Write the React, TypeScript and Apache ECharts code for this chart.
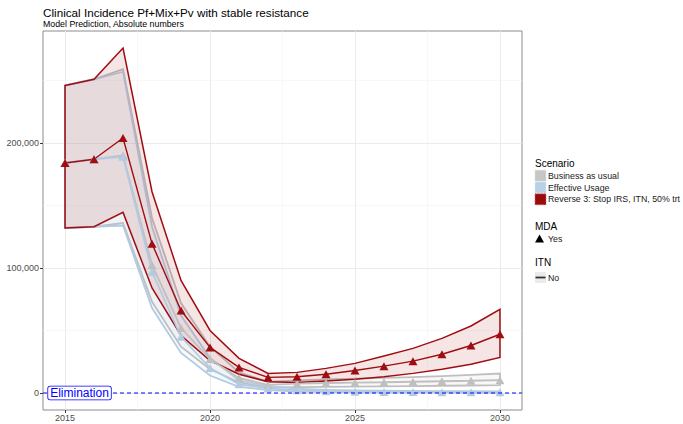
import React, { useEffect, useRef } from "react";
import * as echarts from "echarts";

// Simulation years
const years = [2015, 2016, 2017, 2018, 2019, 2020, 2021, 2022, 2023, 2024, 2025, 2026, 2027, 2028, 2029, 2030];

// Business as usual: median and uncertainty bounds
const bauMed = [184000, 187000, 190000, 102500, 52000, 27000, 12000, 6500, 7500, 8000, 8300, 8600, 9000, 9400, 9800, 10300];
const bauUp = [246000, 251000, 259000, 140000, 72000, 37000, 16500, 9000, 10000, 10800, 11500, 12100, 12700, 13500, 14500, 15600];
const bauLow = [132000, 133000, 136000, 73000, 37000, 19000, 8500, 4500, 4700, 4900, 5100, 5300, 5500, 5800, 6000, 6300];

// Effective usage
const euMed = [184000, 187000, 189000, 97000, 45000, 20000, 7000, 3700, 2200, 1500, 1100, 900, 800, 700, 600, 600];
const euUp = [246000, 251000, 257000, 133000, 62000, 28000, 10000, 5500, 3500, 2500, 2000, 1800, 1600, 1500, 1400, 1300];
const euLow = [132000, 133000, 134000, 68000, 32000, 14000, 5000, 2400, 1200, 700, 500, 400, 300, 250, 200, 200];

// Reverse 3: Stop IRS, ITN, 50% trt
const revMed = [184000, 187000, 204000, 119500, 66000, 36500, 20500, 12500, 13000, 15000, 18000, 21500, 25500, 31000, 38000, 47000];
const revUp = [246000, 251000, 276000, 161000, 90000, 50000, 27700, 15700, 16500, 19700, 23700, 29600, 35700, 43700, 53600, 67000];
const revLow = [132000, 133000, 144500, 84000, 46000, 26000, 15000, 9000, 8500, 9600, 11000, 13000, 15700, 19000, 23000, 28500];

// Axis range, ticks and grid
const xRange = [2014.24, 2030.76];
const yRange = [-13600, 289600];
const xTicks = [2015, 2020, 2025, 2030];
const xMinor = [2017.5, 2022.5, 2027.5];
const yTicks = [0, 100000, 200000];
const yMinor = [50000, 150000, 250000];

// Elimination threshold
const eliminationLevel = 0;

const scenarioNames = ["Business as usual", "Effective Usage", "Reverse 3: Stop IRS, ITN, 50% trt"];

const FONT = "'Liberation Sans', Arial, Helvetica, sans-serif";

const GREY = "#bfbfbf";
const BLUE = "#b3cbe2";
const RED = "#9f0d12";

function band(name: string, up: number[], low: number[], fill: string, stroke: string, lineWidth: number) {
  return {
    type: "custom",
    name,
    silent: true,
    z: 2,
    data: [[years[0], 0]],
    renderItem: (_params: any, api: any) => {
      const top = years.map((y, i) => api.coord([y, up[i]]));
      const bottom = years.map((y, i) => api.coord([y, low[i]])).reverse();
      return {
        type: "polygon",
        shape: { points: top.concat(bottom) },
        style: { fill, stroke, lineWidth },
      };
    },
  };
}

function median(name: string, vals: number[], color: string, width: number) {
  return {
    type: "line",
    name,
    z: 3,
    silent: true,
    data: years.map((y, i) => [y, vals[i]]),
    symbol: "triangle",
    symbolSize: [9, 8],
    showAllSymbol: true,
    itemStyle: { color },
    lineStyle: { color, width },
  };
}

export default function App() {
  const ref = useRef<HTMLDivElement>(null);

  useEffect(() => {
    if (!ref.current) return;
    const chart = echarts.init(ref.current, undefined, { renderer: "svg" });

    const major = { color: "#ebebeb", width: 1, type: "solid" };
    const minor = { color: "#f4f4f4", width: 0.6, type: "solid" };
    const gridLines = [
      ...xTicks.map((v) => ({ xAxis: v, lineStyle: major })),
      ...xMinor.map((v) => ({ xAxis: v, lineStyle: minor })),
      ...yTicks.map((v) => ({ yAxis: v, lineStyle: major })),
      ...yMinor.map((v) => ({ yAxis: v, lineStyle: minor })),
    ];

    const legendKeyY = [175.7, 187.5, 199.3];
    const keyStyles = [
      { fill: "#c6c6c6", stroke: "#dedede" },
      { fill: "#bad0e7", stroke: "#d9e6f3" },
      { fill: "#9b0b0b", stroke: "#c97070" },
    ];

    const graphic: any[] = [
      { type: "text", left: 535, top: 158, style: { text: "Scenario", fontSize: 10, fontFamily: FONT, fill: "#000" } },
      ...scenarioNames.flatMap((n, i) => [
        {
          type: "rect",
          shape: { x: 535, y: legendKeyY[i] - 5.5, width: 11, height: 11 },
          style: { fill: keyStyles[i].fill, stroke: keyStyles[i].stroke, lineWidth: 1, lineDash: [1.5, 1.5] },
        },
        {
          type: "text",
          x: 548,
          y: legendKeyY[i],
          style: { text: n, fontSize: 8.8, fontFamily: FONT, fill: "#1a1a1a", textVerticalAlign: "middle" },
        },
      ]),
      { type: "text", left: 535, top: 221, style: { text: "MDA", fontSize: 10, fontFamily: FONT, fill: "#000" } },
      {
        type: "polygon",
        shape: { points: [[535, 242.5], [544, 242.5], [539.5, 234.5]] },
        style: { fill: "#000" },
      },
      { type: "text", x: 548, y: 239, style: { text: "Yes", fontSize: 8.8, fontFamily: FONT, fill: "#1a1a1a", textVerticalAlign: "middle" } },
      { type: "text", left: 535, top: 257, style: { text: "ITN", fontSize: 10, fontFamily: FONT, fill: "#000" } },
      { type: "rect", shape: { x: 535, y: 272, width: 11, height: 11 }, style: { fill: "#ebebeb" } },
      { type: "line", shape: { x1: 535.5, y1: 277.5, x2: 545.5, y2: 277.5 }, style: { stroke: "#333", lineWidth: 1.8 } },
      { type: "text", x: 548, y: 277.5, style: { text: "No", fontSize: 8.8, fontFamily: FONT, fill: "#1a1a1a", textVerticalAlign: "middle" } },
    ];

    chart.setOption({
      animation: false,
      backgroundColor: "#fff",
      textStyle: { fontFamily: FONT },
      title: [
        {
          text: "Clinical Incidence Pf+Mix+Pv with stable resistance",
          left: 43,
          top: 6,
          padding: 0,
          textStyle: { fontSize: 11.7, fontWeight: "normal", color: "#000", fontFamily: FONT },
        },
        {
          text: "Model Prediction, Absolute numbers",
          left: 43,
          top: 19.5,
          padding: 0,
          textStyle: { fontSize: 8.8, fontWeight: "normal", color: "#000", fontFamily: FONT },
        },
      ],
      grid: {
        left: 43,
        right: 161,
        top: 31,
        bottom: 14,
        show: true,
        borderColor: "#8c8c8c",
        borderWidth: 1,
        backgroundColor: "transparent",
      },
      xAxis: {
        type: "value",
        min: xRange[0],
        max: xRange[1],
        axisLine: { show: false, onZero: false },
        splitLine: { show: false },
        axisTick: { show: true, customValues: xTicks, length: 3, lineStyle: { color: "#333" } },
        axisLabel: {
          customValues: xTicks,
          color: "#4d4d4d",
          fontSize: 9,
          margin: 3,
          fontFamily: FONT,
          formatter: (v: number) => String(v),
        },
      },
      yAxis: {
        type: "value",
        min: yRange[0],
        max: yRange[1],
        axisLine: { show: false, onZero: false },
        splitLine: { show: false },
        axisTick: { show: true, customValues: yTicks, length: 3, lineStyle: { color: "#333" } },
        axisLabel: {
          customValues: yTicks,
          color: "#4d4d4d",
          fontSize: 9,
          margin: 4,
          fontFamily: FONT,
          formatter: (v: number) => v.toLocaleString("en-US"),
        },
      },
      graphic,
      series: [
        {
          type: "line",
          z: 1,
          silent: true,
          data: [[2015, 0]],
          showSymbol: false,
          lineStyle: { opacity: 0 },
          markLine: {
            z: 1,
            silent: true,
            symbol: ["none", "none"],
            label: { show: false },
            lineStyle: major,
            data: gridLines,
          },
        },
        band(scenarioNames[0], bauUp, bauLow, "rgba(190,190,190,0.1)", GREY, 1.8),
        band(scenarioNames[1], euUp, euLow, "rgba(179,203,226,0.1)", BLUE, 1.8),
        band(scenarioNames[2], revUp, revLow, "rgba(165,15,21,0.11)", RED, 1.5),
        median(scenarioNames[0], bauMed, GREY, 1.8),
        median(scenarioNames[1], euMed, BLUE, 1.8),
        median(scenarioNames[2], revMed, RED, 1.4),
        {
          // horizontal elimination reference line across the full panel
          type: "line",
          name: "Elimination",
          z: 4,
          silent: true,
          showSymbol: false,
          data: [
            [xRange[0], eliminationLevel],
            [xRange[1], eliminationLevel],
          ],
          lineStyle: { color: "#0000ff", type: [4, 3], width: 1 },
          markPoint: {
            z: 6,
            silent: true,
            symbol: "rect",
            symbolSize: 1,
            itemStyle: { color: "rgba(0,0,0,0)" },
            data: [{ coord: [2015.5, eliminationLevel] }],
            label: {
              show: true,
              position: "inside",
              formatter: "Elimination",
              color: "#0000ff",
              fontSize: 12,
              lineHeight: 12,
              fontFamily: FONT,
              backgroundColor: "#fff",
              borderColor: "#0000ff",
              borderWidth: 0.8,
              borderRadius: 2,
              padding: [1, 2, 0, 2],
            },
          },
        },
      ],
    });

    return () => chart.dispose();
  }, []);

  return <div ref={ref} style={{ position: "fixed", left: 0, top: 0, width: 683, height: 424 }} />;
}
